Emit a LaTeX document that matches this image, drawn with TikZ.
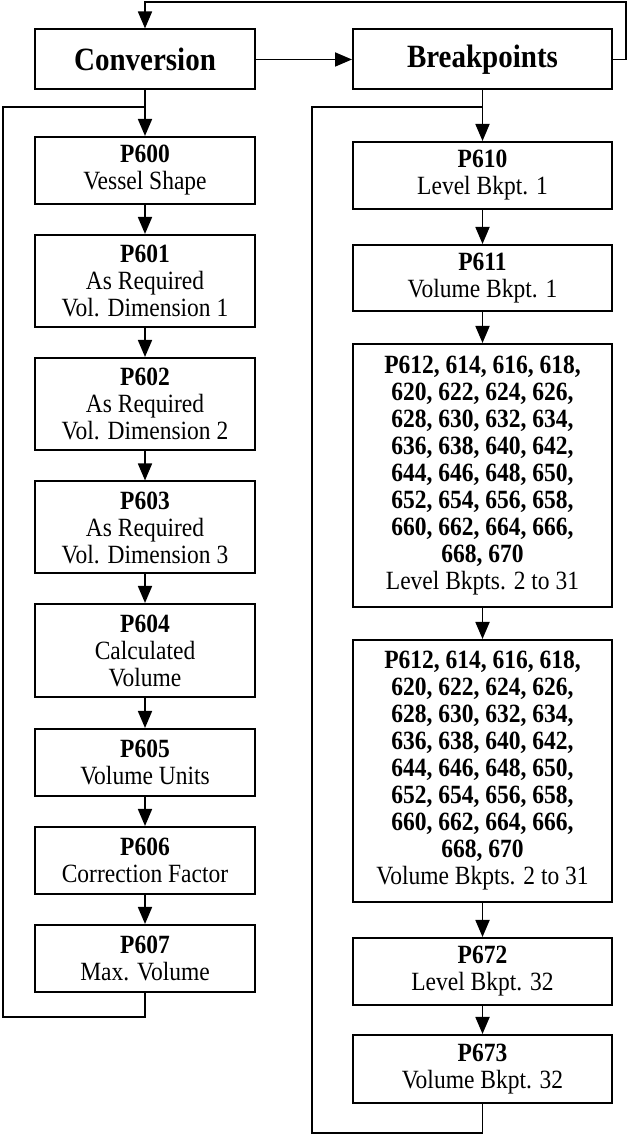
\documentclass[tikz,border=0pt]{standalone}
\usepackage{fontspec}
\usepackage{graphicx}
\setmainfont{Liberation Serif}
\usetikzlibrary{arrows.meta}
\newcommand{\stretchy}[1]{\scalebox{1}[1.12]{#1}}
\newcommand{\stretchb}[1]{\scalebox{1}[1.12]{\textbf{#1}}}
\begin{document}
\begin{tikzpicture}[x=1pt,y=1pt,
  box/.style={draw, line width=2pt, inner sep=0pt, align=center,
    font=\fontsize{23.5}{27}\selectfont},
  lbox/.style={box, minimum width=220pt},
  rbox/.style={box, minimum width=259pt},
  head/.style={box, font=\fontsize{29}{32}\selectfont\bfseries, minimum height=60pt},
  conn/.style={line width=1.8pt},
  arr/.style={conn, -{Triangle[length=17pt,width=14pt]}}]
\useasboundingbox (0,0) rectangle (628,1136);
\fill[white] (0,0) rectangle (628,1136);
% header boxes
\node[head, minimum width=220pt] (conv) at (145,1076.5) {\stretchy{Conversion}};
\node[head, minimum width=259pt] (brk) at (482.5,1076.5) {\stretchy{Breakpoints}};
% left column
\node[lbox, minimum height=67pt] (p600) at (145,965.5) {\stretchb{P600}\\\stretchy{Vessel Shape}};
\node[lbox, minimum height=92pt] (p601) at (145,855) {\stretchb{P601}\\\stretchy{As Required}\\\stretchy{Vol. Dimension 1}};
\node[lbox, minimum height=92pt] (p602) at (145,732) {\stretchb{P602}\\\stretchy{As Required}\\\stretchy{Vol. Dimension 2}};
\node[lbox, minimum height=92pt] (p603) at (145,608.5) {\stretchb{P603}\\\stretchy{As Required}\\\stretchy{Vol. Dimension 3}};
\node[lbox, minimum height=93pt] (p604) at (145,485.5) {\stretchb{P604}\\\stretchy{Calculated}\\\stretchy{Volume}};
\node[lbox, minimum height=67pt] (p605) at (145,373.5) {\stretchb{P605}\\\stretchy{Volume Units}};
\node[lbox, minimum height=67pt] (p606) at (145,275.5) {\stretchb{P606}\\\stretchy{Correction Factor}};
\node[lbox, minimum height=67pt] (p607) at (145,177.5) {\stretchb{P607}\\\stretchy{Max. Volume}};
% right column
\node[rbox, minimum height=67pt] (p610) at (482.5,960.5) {\stretchb{P610}\\\stretchy{Level Bkpt. 1}};
\node[rbox, minimum height=66pt] (p611) at (482.5,858) {\stretchb{P611}\\\stretchy{Volume Bkpt. 1}};
\node[rbox, minimum height=263pt] (lvl) at (482.5,660.5) {\stretchb{P612, 614, 616, 618,}\\\stretchb{620, 622, 624, 626,}\\\stretchb{628, 630, 632, 634,}\\\stretchb{636, 638, 640, 642,}\\\stretchb{644, 646, 648, 650,}\\\stretchb{652, 654, 656, 658,}\\\stretchb{660, 662, 664, 666,}\\\stretchb{668, 670}\\\stretchy{Level Bkpts. 2 to 31}};
\node[rbox, minimum height=262pt] (vol) at (482.5,365) {\stretchb{P612, 614, 616, 618,}\\\stretchb{620, 622, 624, 626,}\\\stretchb{628, 630, 632, 634,}\\\stretchb{636, 638, 640, 642,}\\\stretchb{644, 646, 648, 650,}\\\stretchb{652, 654, 656, 658,}\\\stretchb{660, 662, 664, 666,}\\\stretchb{668, 670}\\\stretchy{Volume Bkpts. 2 to 31}};
\node[rbox, minimum height=67pt] (p672) at (482.5,164.5) {\stretchb{P672}\\\stretchy{Level Bkpt. 32}};
\node[rbox, minimum height=68pt] (p673) at (482.5,67) {\stretchb{P673}\\\stretchy{Volume Bkpt. 32}};
% junction coordinates
\coordinate (lj) at (145,1029);
\coordinate (lb) at (3,119);
\coordinate (rj) at (482.5,1029);
\coordinate (rb) at (312,3);
\coordinate (tr) at (626,1134);
% connectors
\draw[arr] (conv) -- (brk);
\draw[arr] (brk.east) -| (tr) -| (conv.north);
\draw[arr] (conv) -- (p600);
\draw[arr] (p600) -- (p601);
\draw[arr] (p601) -- (p602);
\draw[arr] (p602) -- (p603);
\draw[arr] (p603) -- (p604);
\draw[arr] (p604) -- (p605);
\draw[arr] (p605) -- (p606);
\draw[arr] (p606) -- (p607);
\draw[conn] (p607.south) |- (lb) |- (lj);
\draw[arr] (brk) -- (p610);
\draw[arr] (p610) -- (p611);
\draw[arr] (p611) -- (lvl);
\draw[arr] (lvl) -- (vol);
\draw[arr] (vol) -- (p672);
\draw[arr] (p672) -- (p673);
\draw[conn] (p673.south) |- (rb) |- (rj);
\end{tikzpicture}
\end{document}
